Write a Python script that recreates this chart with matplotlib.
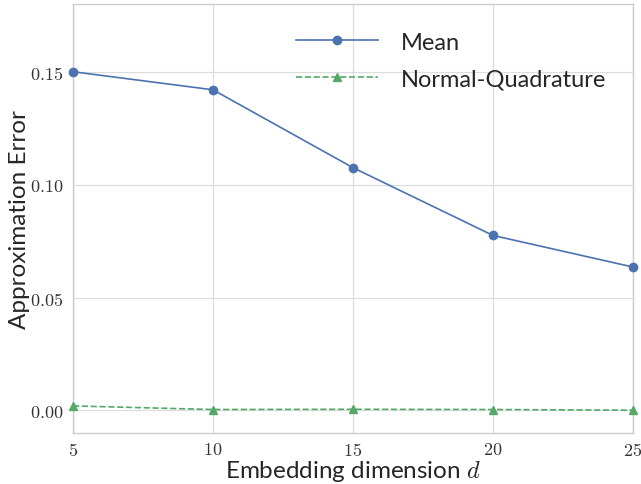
import matplotlib
matplotlib.use("Agg")
import matplotlib.pyplot as plt
from matplotlib.ticker import FuncFormatter

dims = [5, 10, 15, 20, 25]
mean_err = [0.150, 0.142, 0.1075, 0.0775, 0.0635]
nq_err = [0.0020, 0.0004, 0.0005, 0.0004, 0.0001]
xticks = [5, 10, 15, 20, 25]
yticks = [0.00, 0.05, 0.10, 0.15]

plt.rcParams['mathtext.fontset'] = 'cm'
plt.rcParams['font.family'] = ['Lato', 'DejaVu Sans']

fig = plt.figure(figsize=(6.41, 4.85), dpi=100)
ax = fig.add_axes([73/641, 1-434/485, (633-73)/641, (434-5)/485])

ax.plot(dims, mean_err, color='#4C72B0', marker='o', markersize=6, lw=1.2, label='Mean', clip_on=False, zorder=3)
ax.plot(dims, nq_err, color='#55A868', marker='^', markersize=6, lw=1.2, ls='--', label='Normal-Quadrature', clip_on=False, zorder=3)

ax.set_xlim(5, 25)
ax.set_ylim(-0.01, 0.18)
ax.set_xticks(xticks)
ax.set_yticks(yticks)
ax.xaxis.set_major_formatter(FuncFormatter(lambda v, p: r'$%d$' % v))
ax.yaxis.set_major_formatter(FuncFormatter(lambda v, p: r'$%.2f$' % v))
ax.tick_params(axis='x', length=0, labelsize=13, labelcolor='#333333', pad=6)
ax.tick_params(axis='y', length=0, labelsize=13, labelcolor='#333333', pad=7)

ax.grid(True, color='#dddddd', lw=0.9)
ax.set_axisbelow(True)
for s in ax.spines.values():
    s.set_color('#cccccc')
    s.set_linewidth(1.0)

fig.text((73 + 633) / 2 / 641, 6.5 / 485, r'Embedding dimension $d$', fontsize=17.5,
         color='#262626', ha='center', va='baseline')
fig.text(20 / 641, 1 - 219.5 / 485, 'Approximation Error', fontsize=17.5,
         color='#262626', ha='center', va='center', rotation=90)

leg = ax.legend(loc='upper right', bbox_to_anchor=(0.99, 0.985), frameon=False, fontsize=17,
                handlelength=3.5, handletextpad=0.95, labelspacing=0.65)
for t in leg.get_texts():
    t.set_color('#262626')

fig.savefig('out.png', dpi=100)
